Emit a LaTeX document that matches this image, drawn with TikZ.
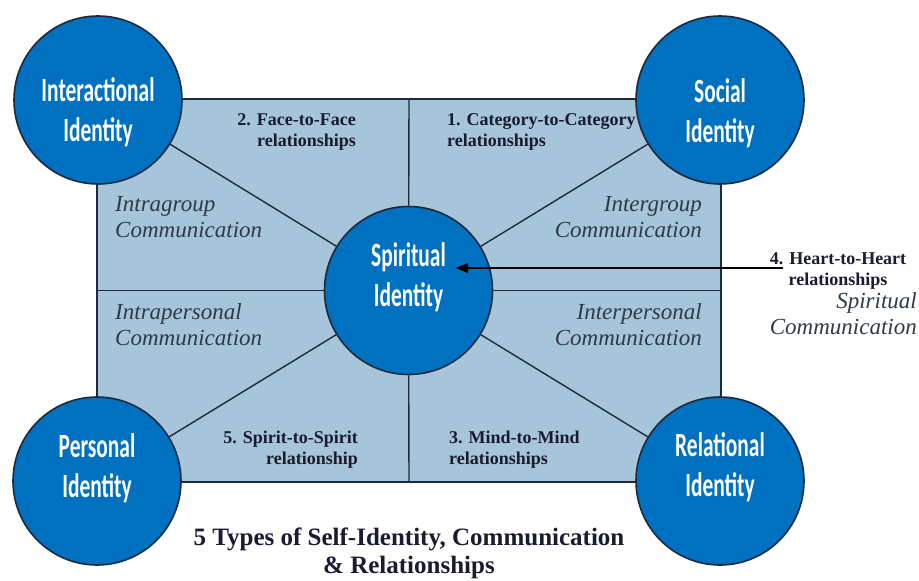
\documentclass[tikz,border=0pt]{standalone}
\usepackage{fontspec}
\setmainfont{Liberation Serif}
\newfontfamily\circfont[FakeStretch=0.63]{Carlito}
\usetikzlibrary{arrows.meta}
\definecolor{cfill}{HTML}{0070C0}
\definecolor{cline}{HTML}{1C2A3C}
\definecolor{rfill}{HTML}{A6C4DA}
\definecolor{btext}{HTML}{1A1A30}
\definecolor{itext}{HTML}{2E3A46}
\tikzset{
  idcircle/.style={circle, draw=cline, line width=1.6pt, fill=cfill, minimum size=168pt, inner sep=0pt},
  idtext/.style={text=white, font=\circfont\bfseries\fontsize{34}{40}\selectfont, align=center, inner sep=0pt},
  rel/.style={text=btext, font=\bfseries\fontsize{18}{21}\selectfont, inner sep=0pt},
  comm/.style={text=itext, font=\itshape\fontsize{23}{26}\selectfont, inner sep=0pt},
  divider/.style={draw=cline, line width=1.4pt},
}
\begin{document}
\begin{tikzpicture}[x=1pt,y=-1pt]
\useasboundingbox (0,0) rectangle (919,581);
\node[draw=cline, line width=1.6pt, fill=rfill, minimum width=624pt, minimum height=383pt, inner sep=0pt] (frame) at (409,290.5) {};
% circles
\node[idcircle] (sp) at (408.5,290.5) {};
\node[idcircle] (ia) at (98,100) {};
\node[idcircle] (so) at (720,100) {};
\node[idcircle] (pe) at (97,481) {};
\node[idcircle] (re) at (720,481) {};
% dividers
\draw[divider] (frame.north) -- (sp);
\draw[divider] (frame.south) -- (sp);
\draw[divider] (frame.west) -- (sp);
\draw[divider] (frame.east) -- (sp);
\draw[divider] (ia) -- (sp);
\draw[divider] (so) -- (sp);
\draw[divider] (pe) -- (sp);
\draw[divider] (re) -- (sp);
% circle texts
\node[idtext] (iat) at (98,112) {Interactional\\Identity};
\node[idtext] (sot) at (720,113) {Social\\Identity};
\node[idtext] (spt) at (408.5,277) {Spiritual\\Identity};
\node[idtext] (pet) at (97,468) {Personal\\Identity};
\node[idtext] (ret) at (720,467) {Relational\\Identity};
% relationship labels
\node[rel, align=right, anchor=north east] (r2) at (356,113) {2. Face-to-Face\\relationships};
\node[rel, align=left, anchor=north west] (r1) at (447,113) {1. Category-to-Category\\relationships};
\node[rel, align=right, anchor=north east] (r5) at (358,431) {5. Spirit-to-Spirit\\relationship};
\node[rel, align=left, anchor=north west] (r3) at (449,431) {3. Mind-to-Mind\\relationships};
\node[rel, align=center, anchor=north] (r4) at (838,252) {4. Heart-to-Heart\\relationships};
% communication labels
\node[comm, align=left, anchor=north west] (c1) at (115,196) {Intragroup\\Communication};
\node[comm, align=right, anchor=north east] (c2) at (702,196) {Intergroup\\Communication};
\node[comm, align=left, anchor=north west] (c3) at (115,303) {Intrapersonal\\Communication};
\node[comm, align=right, anchor=north east] (c4) at (702,303) {Interpersonal\\Communication};
\node[comm, align=right, anchor=north east] (c5) at (917,292) {Spiritual\\Communication};
% arrow
\coordinate (hs) at (783,268);
\coordinate (ht) at (456,268);
\draw[line width=1.4pt, draw=black, -{Triangle[length=12pt,width=10pt]}] (hs) -- (ht);
% title
\node[text=btext, font=\bfseries\fontsize{25}{28}\selectfont, align=center, anchor=north, inner sep=0pt] (title) at (409,528) {5 Types of Self-Identity, Communication\\\& Relationships};
\end{tikzpicture}
\end{document}
